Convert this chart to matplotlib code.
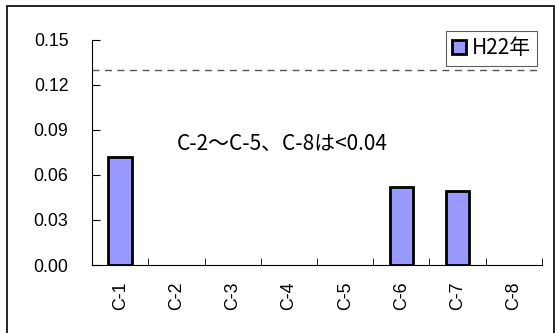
import matplotlib
matplotlib.use("Agg")
import matplotlib.pyplot as plt
from matplotlib.patches import Rectangle

sites = ["C-1", "C-2", "C-3", "C-4", "C-5", "C-6", "C-7", "C-8"]
# C-2..C-5 and C-8 were below 0.04, so no bar is drawn
h22 = [0.072, None, None, None, None, 0.052, 0.049, None]
limit = 0.13
yticks = [0.00, 0.03, 0.06, 0.09, 0.12, 0.15]
note = "C-2〜C-5、C-8は<0.04"

plt.rcParams['font.family'] = ['Liberation Sans', 'Noto Sans CJK JP']

fig = plt.figure(figsize=(5.56, 3.33), dpi=100)
ax = fig.add_axes([0.1655, 0.2042, 0.8093, 0.6757])

xs = [i for i, v in enumerate(h22) if v is not None]
vals = [v for v in h22 if v is not None]
ax.bar(xs, vals, width=0.42, color="#9999FF", edgecolor="black", linewidth=2, label="H22年", zorder=3)
ax.axhline(limit, color="#555555", linestyle=(0, (5, 4)), linewidth=1)

ax.set_xlim(-0.5, len(sites) - 0.5)
ax.set_ylim(0, 0.15)
ax.set_yticks(yticks)
ax.set_yticklabels([f"{v:.2f}" for v in yticks], fontsize=12.8)
ax.set_xticks(range(len(sites)))
ax.set_xticklabels(sites, rotation=90, fontsize=12.8)
ax.tick_params(axis="x", length=0, pad=12)
ax.set_xticks([i - 0.5 for i in range(len(sites) + 1)], minor=True)
ax.tick_params(axis="x", which="minor", direction="in", length=5)
ax.tick_params(axis="y", direction="in", length=6, pad=17)

for s in ["top", "right"]:
    ax.spines[s].set_visible(False)

ax.text((177 - 92) / 450, 0.081 / 0.15, note, transform=ax.transAxes, fontsize=15,
        va="center", family=['Noto Sans CJK JP', 'DejaVu Sans'])

leg = ax.legend(loc="upper right", bbox_to_anchor=(537 / 556, 1 - 31 / 333),
                bbox_transform=fig.transFigure, frameon=True,
                fancybox=False, borderpad=0.3, handlelength=0.7, handleheight=0.7,
                handletextpad=0.25, borderaxespad=0, prop={'family': ['Noto Sans CJK JP'], 'size': 15})
leg.get_frame().set_edgecolor("#333333")
leg.get_frame().set_linewidth(0.8)

fig.patches.append(Rectangle((7 / 556, -0.1), 547 / 556, 1.1 - 6 / 333, transform=fig.transFigure,
                             fill=False, edgecolor="black", linewidth=1.2, clip_on=False))

fig.savefig("out.png", dpi=100)
